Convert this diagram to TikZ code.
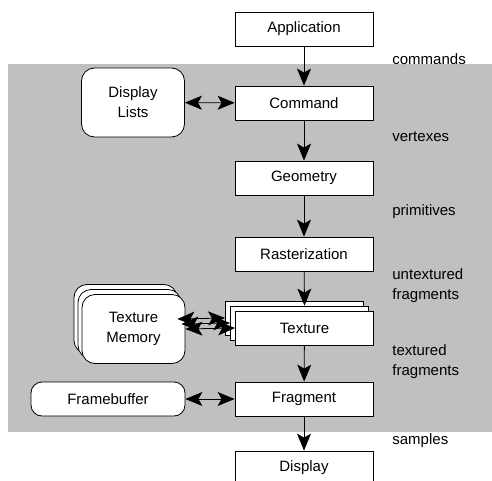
\documentclass[tikz,border=0pt]{standalone}
\usepackage{fontspec}
\setmainfont{Liberation Sans}
\usetikzlibrary{arrows.meta}
\definecolor{pipegray}{RGB}{192,192,192}
\newcommand{\pipestage}[3] {\node at (#1) (#2) [rectangle, draw, fill=white, minimum width=138pt, minimum height=34pt] {#3};}
\newcommand{\pipestore}[3] {\node at (#1) (#2) [rectangle, draw, fill=white, rounded corners=13pt, minimum width=103pt, minimum height=69pt, align=center] {#3};}
\newcommand{\pipeflow}[2] {\draw [-{Stealth[length=17pt,width=14pt,inset=4pt]}] (#1) -- (#2);}
\newcommand{\pipeboth}[2] {\draw [{Stealth[length=17pt,width=14pt,inset=4pt]}-{Stealth[length=17pt,width=14pt,inset=4pt]}] (#1) -- (#2);}
\newcommand{\pipenote}[3] {\node at (#1) (#2) [anchor=west, inner sep=0pt, align=left] {#3};}

\begin{document}
\begin{tikzpicture}[x=1pt, y=-1pt, line width=0.8pt, font=\fontsize{15}{20}\selectfont]

\useasboundingbox (0,0) rectangle (492,481);
\fill [pipegray] (8,64) rectangle (492,432);

\pipestage {304,29}{application}{Application}
\pipestage {304,103}{command}{Command}
\pipeflow {application}{command}
\pipestage {304,178}{geometry}{Geometry}
\pipeflow {command}{geometry}
\pipestage {304,254}{raster}{Rasterization}
\pipeflow {geometry}{raster}

% texture stage, three layers
\pipestage {294.5,318}{texture3}{}
\pipestage {299.5,323}{texture2}{}
\pipestage {304.5,328}{texture}{Texture}
\pipeflow {raster}{texture2.north -| texture}

\pipestage {304,399}{fragment}{Fragment}
\pipeflow {texture}{fragment}
\pipestage {304,468}{display}{Display}
\pipeflow {fragment}{display}

\pipestore {133,102.5}{displaylists}{Display\\Lists}
\pipeboth {displaylists}{command}

\pipestore {125.5,319}{texmem3}{}
\pipestore {129.5,324}{texmem2}{}
\pipestore {133.5,329}{texmem}{Texture\\Memory}
\pipeboth {texmem3.east}{texture3.west}
\pipeboth {texmem2.east}{texture2.west}
\pipeboth {texmem.east}{texture.west}

\node at (108,399) (framebuffer) [rectangle, draw, fill=white, rounded corners=11pt, minimum width=154pt, minimum height=34pt] {Framebuffer};
\pipeboth {framebuffer}{fragment}

\pipenote {392,59}{commands}{commands}
\pipenote {392,137}{vertexes}{vertexes}
\pipenote {392,212}{primitives}{primitives}
\pipenote {392,286}{untextured}{untextured\\fragments}
\pipenote {392,362}{textured}{textured\\fragments}
\pipenote {392,441}{samples}{samples}

\end{tikzpicture}
\end{document}
